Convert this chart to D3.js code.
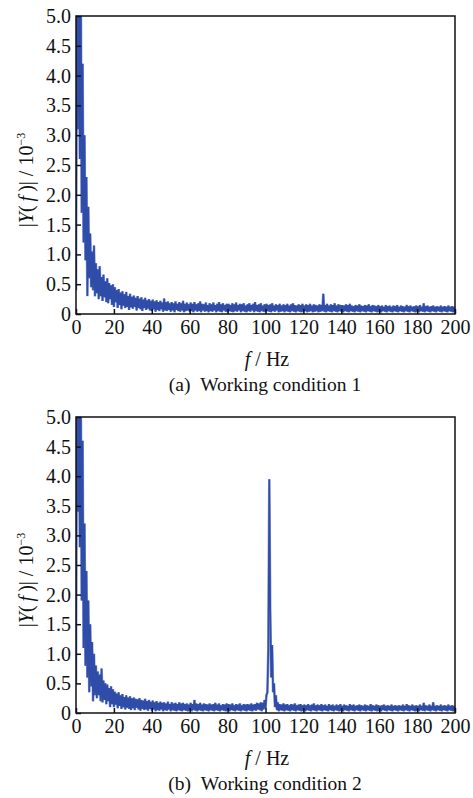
<!DOCTYPE html>
<html>
<head>
<meta charset="utf-8">
<script src="https://d3js.org/d3.v7.min.js"></script>
<style>
  body { margin: 0; background: #fff; }
  svg text { font-family: "Liberation Serif", "Times New Roman", serif; fill: #111; }
  .tick line { stroke: #111; stroke-width: 1.5; }
</style>
</head>
<body>
<svg id="chart" width="473" height="798"></svg>
<script>
// spectrum amplitudes |Y(f)| (x 10^-3), one value every 0.5 Hz from 0 to 200 Hz
const freqStep = 0.5;
const amp1 = [
  0.4, 5.8, 3.1, 6.2, 2.6, 5.9, 1.7, 4.2, 1.2, 3.0, 0.9, 2.3, 0.3, 1.8, 0.6, 1.35, 0.45, 1.05, 0.4, 1.15,
  0.3, 0.85, 0.35, 0.75, 0.25, 0.8, 0.3, 0.62, 0.22, 0.66, 0.28, 0.55, 0.2, 0.6, 0.18, 0.52, 0.25, 0.48, 0.15, 0.5,
  0.12, 0.45, 0.2, 0.4, 0.1, 0.42, 0.15, 0.36, 0.08, 0.38, 0.14, 0.33, 0.1, 0.37, 0.12, 0.3, 0.07, 0.34, 0.11, 0.29,
  0.09, 0.31, 0.12, 0.27, 0.06, 0.3, 0.1, 0.26, 0.08, 0.28, 0.05, 0.24, 0.1, 0.27, 0.07, 0.23, 0.09, 0.25, 0.06, 0.22,
  0.05, 0.24, 0.08, 0.21, 0.04, 0.23, 0.07, 0.2, 0.05, 0.22, 0.08, 0.19, 0.04, 0.26, 0.06, 0.2, 0.05, 0.21, 0.07, 0.18,
  0.04, 0.2, 0.06, 0.18, 0.03, 0.21, 0.07, 0.17, 0.05, 0.2, 0.04, 0.18, 0.06, 0.22, 0.03, 0.17, 0.05, 0.19, 0.06, 0.16,
  0.04, 0.19, 0.05, 0.17, 0.03, 0.2, 0.06, 0.16, 0.04, 0.18, 0.05, 0.21, 0.03, 0.17, 0.06, 0.16, 0.04, 0.19, 0.05, 0.15,
  0.03, 0.18, 0.05, 0.16, 0.04, 0.19, 0.06, 0.15, 0.03, 0.17, 0.05, 0.2, 0.04, 0.16, 0.03, 0.18, 0.06, 0.15, 0.04, 0.17,
  0.03, 0.17, 0.05, 0.15, 0.04, 0.18, 0.03, 0.16, 0.05, 0.19, 0.04, 0.15, 0.06, 0.17, 0.03, 0.16, 0.05, 0.18, 0.04, 0.14,
  0.03, 0.16, 0.05, 0.18, 0.04, 0.15, 0.06, 0.17, 0.03, 0.2, 0.05, 0.15, 0.04, 0.16, 0.03, 0.18, 0.05, 0.14, 0.04, 0.16,
  0.03, 0.17, 0.05, 0.15, 0.04, 0.16, 0.03, 0.18, 0.05, 0.14, 0.04, 0.16, 0.06, 0.15, 0.03, 0.17, 0.04, 0.14, 0.05, 0.16,
  0.03, 0.15, 0.05, 0.17, 0.04, 0.14, 0.03, 0.16, 0.05, 0.18, 0.04, 0.15, 0.03, 0.14, 0.05, 0.16, 0.04, 0.15, 0.03, 0.17,
  0.04, 0.14, 0.05, 0.16, 0.03, 0.15, 0.04, 0.17, 0.05, 0.14, 0.03, 0.16, 0.04, 0.15, 0.05, 0.14, 0.03, 0.16, 0.04, 0.15,
  0.05, 0.34, 0.04, 0.15, 0.03, 0.17, 0.05, 0.14, 0.04, 0.16, 0.03, 0.15, 0.05, 0.18, 0.04, 0.14, 0.03, 0.16, 0.05, 0.15,
  0.04, 0.15, 0.03, 0.14, 0.05, 0.16, 0.04, 0.15, 0.03, 0.17, 0.05, 0.14, 0.04, 0.13, 0.03, 0.15, 0.05, 0.14, 0.04, 0.16,
  0.03, 0.14, 0.05, 0.13, 0.04, 0.15, 0.03, 0.14, 0.05, 0.16, 0.04, 0.13, 0.03, 0.15, 0.05, 0.14, 0.04, 0.13, 0.03, 0.15,
  0.04, 0.13, 0.03, 0.14, 0.05, 0.12, 0.04, 0.15, 0.03, 0.13, 0.05, 0.14, 0.04, 0.12, 0.03, 0.14, 0.05, 0.13, 0.04, 0.15,
  0.03, 0.12, 0.05, 0.14, 0.04, 0.13, 0.03, 0.12, 0.05, 0.15, 0.04, 0.13, 0.03, 0.14, 0.05, 0.12, 0.04, 0.13, 0.03, 0.14,
  0.04, 0.13, 0.03, 0.15, 0.05, 0.12, 0.04, 0.18, 0.03, 0.13, 0.05, 0.14, 0.04, 0.12, 0.03, 0.13, 0.05, 0.14, 0.04, 0.12,
  0.03, 0.13, 0.05, 0.12, 0.04, 0.14, 0.03, 0.12, 0.05, 0.13, 0.04, 0.12, 0.03, 0.14, 0.05, 0.12, 0.04, 0.13, 0.03, 0.12,
  0.04
];
const amp2 = [
  0.5, 6.0, 3.4, 6.1, 2.8, 5.7, 1.9, 4.6, 1.1, 3.2, 0.8, 2.4, 0.6, 1.9, 0.35, 1.5, 0.45, 1.2, 0.2, 1.0,
  0.3, 0.8, 0.25, 0.7, 0.3, 0.65, 0.2, 0.75, 0.18, 0.55, 0.22, 0.5, 0.15, 0.48, 0.2, 0.42, 0.1, 0.45, 0.15, 0.4,
  0.1, 0.36, 0.14, 0.33, 0.08, 0.35, 0.12, 0.3, 0.07, 0.32, 0.1, 0.27, 0.06, 0.3, 0.09, 0.26, 0.07, 0.28, 0.05, 0.25,
  0.08, 0.26, 0.05, 0.24, 0.09, 0.23, 0.06, 0.25, 0.04, 0.22, 0.07, 0.21, 0.05, 0.24, 0.06, 0.2, 0.04, 0.22, 0.07, 0.19,
  0.04, 0.21, 0.06, 0.18, 0.03, 0.2, 0.05, 0.17, 0.04, 0.19, 0.06, 0.17, 0.03, 0.18, 0.05, 0.16, 0.04, 0.19, 0.06, 0.15,
  0.03, 0.18, 0.05, 0.16, 0.04, 0.17, 0.03, 0.15, 0.05, 0.18, 0.04, 0.16, 0.03, 0.17, 0.05, 0.15, 0.04, 0.16, 0.03, 0.14,
  0.04, 0.17, 0.03, 0.15, 0.05, 0.22, 0.04, 0.16, 0.03, 0.15, 0.05, 0.17, 0.04, 0.14, 0.03, 0.16, 0.05, 0.15, 0.04, 0.14,
  0.03, 0.16, 0.05, 0.14, 0.04, 0.15, 0.03, 0.17, 0.05, 0.14, 0.04, 0.16, 0.03, 0.13, 0.05, 0.15, 0.04, 0.14, 0.03, 0.16,
  0.04, 0.15, 0.03, 0.14, 0.05, 0.16, 0.04, 0.13, 0.03, 0.15, 0.05, 0.14, 0.04, 0.16, 0.03, 0.13, 0.05, 0.15, 0.04, 0.14,
  0.03, 0.15, 0.05, 0.14, 0.04, 0.16, 0.03, 0.14, 0.05, 0.15, 0.04, 0.17, 0.06, 0.16, 0.05, 0.18, 0.03, 0.17, 0.06, 0.22,
  0.08, 0.3, 0.35, 1.1, 3.95, 1.75, 0.6, 1.15, 0.35, 0.5, 0.1, 0.3, 0.05, 0.18, 0.03, 0.15, 0.05, 0.14, 0.04, 0.16,
  0.03, 0.14, 0.05, 0.15, 0.04, 0.13, 0.03, 0.15, 0.05, 0.14, 0.04, 0.16, 0.03, 0.13, 0.05, 0.14, 0.04, 0.15, 0.03, 0.13,
  0.04, 0.14, 0.03, 0.13, 0.05, 0.15, 0.04, 0.13, 0.03, 0.14, 0.05, 0.16, 0.04, 0.13, 0.03, 0.14, 0.05, 0.13, 0.04, 0.15,
  0.03, 0.13, 0.05, 0.14, 0.04, 0.12, 0.03, 0.15, 0.05, 0.13, 0.04, 0.14, 0.03, 0.12, 0.05, 0.14, 0.04, 0.13, 0.03, 0.15,
  0.04, 0.12, 0.03, 0.14, 0.05, 0.13, 0.04, 0.12, 0.03, 0.15, 0.05, 0.13, 0.04, 0.14, 0.03, 0.12, 0.05, 0.13, 0.04, 0.14,
  0.03, 0.13, 0.05, 0.12, 0.04, 0.14, 0.03, 0.13, 0.05, 0.12, 0.04, 0.15, 0.03, 0.13, 0.05, 0.12, 0.04, 0.14, 0.03, 0.13,
  0.04, 0.12, 0.03, 0.13, 0.05, 0.14, 0.04, 0.12, 0.03, 0.13, 0.05, 0.12, 0.04, 0.14, 0.03, 0.12, 0.05, 0.13, 0.04, 0.12,
  0.03, 0.13, 0.05, 0.12, 0.04, 0.14, 0.03, 0.12, 0.05, 0.15, 0.04, 0.13, 0.03, 0.12, 0.05, 0.14, 0.04, 0.12, 0.03, 0.13,
  0.04, 0.12, 0.03, 0.14, 0.05, 0.12, 0.04, 0.17, 0.03, 0.13, 0.05, 0.12, 0.04, 0.14, 0.03, 0.12, 0.05, 0.18, 0.04, 0.12,
  0.03, 0.13, 0.05, 0.12, 0.04, 0.14, 0.03, 0.12, 0.05, 0.13, 0.04, 0.12, 0.03, 0.14, 0.05, 0.12, 0.04, 0.13, 0.03, 0.12,
  0.04
];
const xTicks = [0, 20, 40, 60, 80, 100, 120, 140, 160, 180, 200];
const yTicks = [0, 0.5, 1.0, 1.5, 2.0, 2.5, 3.0, 3.5, 4.0, 4.5, 5.0];
const captions = ["(a)\u2002Working condition 1", "(b)\u2002Working condition 2"];

const svg = d3.select("#chart");
const left = 76, right = 455;

const x = d3.scaleLinear().domain([0, 200]).range([left, right]);

function drawPanel(amp, top, bottom, caption, id) {
  const y = d3.scaleLinear().domain([0, 5]).range([bottom, top]);
  const g = svg.append("g");

  g.append("clipPath").attr("id", "clip" + id)
    .append("rect").attr("x", left).attr("y", top).attr("width", right - left).attr("height", bottom - top);

  const line = d3.line()
    .x((d, i) => x(i * freqStep))
    .y(d => y(d));

  // light halo first, then the dense core on top
  g.append("path")
    .datum(amp)
    .attr("clip-path", "url(#clip" + id + ")")
    .attr("fill", "none")
    .attr("stroke", "#8d9fd6")
    .attr("stroke-width", 2.6)
    .attr("d", line);

  g.append("path")
    .datum(amp)
    .attr("clip-path", "url(#clip" + id + ")")
    .attr("fill", "none")
    .attr("stroke", "#2f4ca9")
    .attr("stroke-width", 1.6)
    .attr("d", line);

  // x axis, ticks pointing inward
  g.append("g")
    .attr("transform", "translate(0," + bottom + ")")
    .call(d3.axisBottom(x).tickValues(xTicks).tickSize(-5).tickPadding(6).tickFormat(d3.format("d")))
    .call(a => a.select(".domain").remove())
    .selectAll("text").attr("font-size", 20);

  // y axis
  g.append("g")
    .attr("transform", "translate(" + left + ",0)")
    .call(d3.axisLeft(y).tickValues(yTicks).tickSize(-5).tickPadding(5)
      .tickFormat(d => d === 0 ? "0" : d3.format(".1f")(d)))
    .call(a => a.select(".domain").remove())
    .selectAll("text").attr("font-size", 20);

  // frame
  g.append("rect")
    .attr("x", left).attr("y", top)
    .attr("width", right - left).attr("height", bottom - top)
    .attr("fill", "none").attr("stroke", "#111").attr("stroke-width", 1.5);

  // y label
  const cy = (top + bottom) / 2 + 15;
  const yl = g.append("text")
    .attr("transform", "translate(33," + cy + ") rotate(-90)")
    .attr("text-anchor", "middle")
    .attr("font-size", 20);
  yl.append("tspan").text("|");
  yl.append("tspan").attr("font-style", "italic").text("Y");
  yl.append("tspan").text("(\u2009");
  yl.append("tspan").attr("font-style", "italic").text("f");
  yl.append("tspan").text("\u2009)| / 10");
  yl.append("tspan").attr("font-size", 12).attr("dy", -8).text("\u22123");

  // x label
  const xl = g.append("text")
    .attr("x", 267).attr("y", bottom + 52)
    .attr("text-anchor", "middle")
    .attr("font-size", 20);
  xl.append("tspan").attr("font-style", "italic").text("f");
  xl.append("tspan").text(" / Hz");

  // caption
  g.append("text")
    .attr("x", 265).attr("y", bottom + 77)
    .attr("text-anchor", "middle")
    .attr("font-size", 19.5)
    .text(caption);
}

drawPanel(amp1, 16, 314, captions[0], 1);
drawPanel(amp2, 417, 713, captions[1], 2);
</script>
</body>
</html>
